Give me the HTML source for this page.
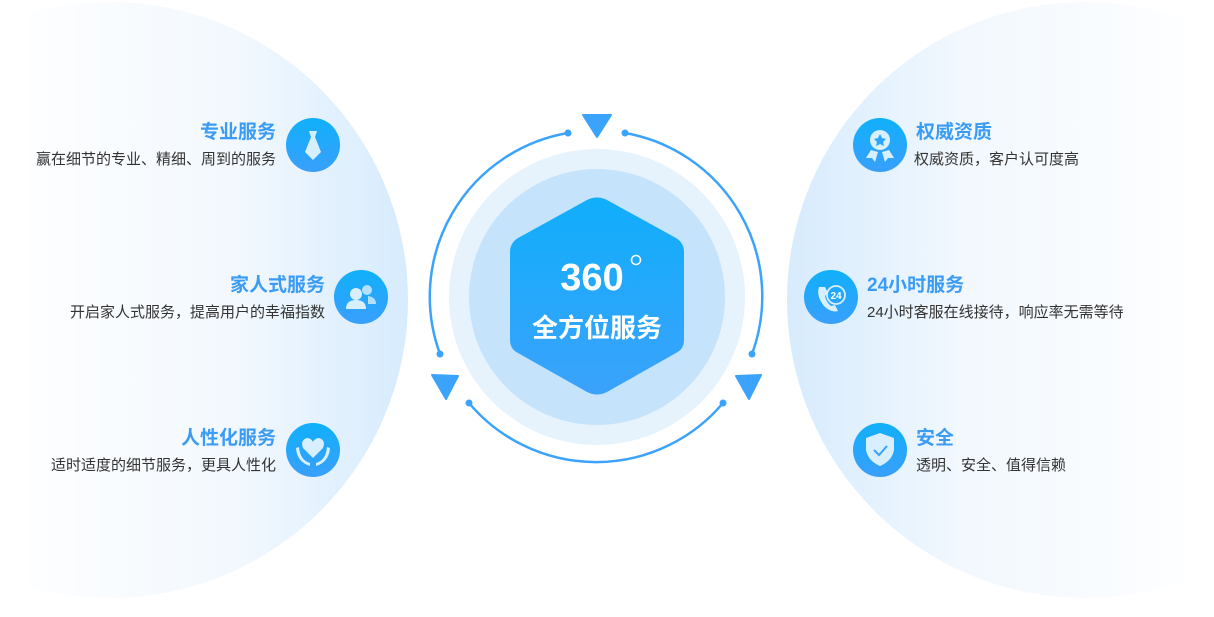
<!DOCTYPE html>
<html><head><meta charset="utf-8"><style>
html,body{margin:0;padding:0;background:#fff;width:1214px;height:617px;overflow:hidden}
svg text{font-family:"Liberation Sans","Noto Sans CJK SC",sans-serif}
.t{font-size:19px;font-weight:bold;fill:#3a9cf5}
.d{font-size:15px;fill:#333}
</style></head><body>
<svg width="1214" height="617" viewBox="0 0 1214 617" xmlns="http://www.w3.org/2000/svg">
<defs>
<linearGradient id="gl" x1="30" y1="0" x2="410" y2="0" gradientUnits="userSpaceOnUse">
<stop offset="0" stop-color="#fdfeff"/><stop offset="0.55" stop-color="#f2f8fe"/><stop offset="1" stop-color="#d6ebfd"/></linearGradient>
<linearGradient id="gr" x1="1184" y1="0" x2="784" y2="0" gradientUnits="userSpaceOnUse">
<stop offset="0" stop-color="#fdfeff"/><stop offset="0.55" stop-color="#f2f8fe"/><stop offset="1" stop-color="#d6ebfd"/></linearGradient>
<linearGradient id="hx" x1="0" y1="0" x2="0" y2="1">
<stop offset="0" stop-color="#10aefb"/><stop offset="1" stop-color="#3ba2fb"/></linearGradient>
<linearGradient id="ic" x1="0" y1="0" x2="0" y2="1">
<stop offset="0" stop-color="#10b0fb"/><stop offset="1" stop-color="#399ffb"/></linearGradient>
<clipPath id="cl"><rect x="30" y="0" width="400" height="617"/></clipPath>
<clipPath id="cr"><rect x="780" y="0" width="404" height="617"/></clipPath>
</defs>
<g clip-path="url(#cl)"><circle cx="110" cy="300" r="298" fill="url(#gl)"/></g>
<g clip-path="url(#cr)"><circle cx="1085" cy="300" r="298" fill="url(#gr)"/></g>

<!-- center -->
<circle cx="597" cy="297" r="148" fill="#e6f3fd"/>
<circle cx="597" cy="297" r="128" fill="#c5e3fb"/>
<path d="M587 200 Q597 195 607 200 L676 238 Q684 243 684 252 L684 340 Q684 349 676 353 L607 392 Q597 397 587 392 L518 353 Q510 349 510 340 L510 252 Q510 243 518 238 Z" fill="url(#hx)"/>
<text x="592" y="290" text-anchor="middle" font-size="38" font-weight="bold" fill="#fff" style="font-family:'Liberation Sans',sans-serif">360</text>
<circle cx="636" cy="260" r="4.5" fill="none" stroke="#fff" stroke-width="1.6"/>
<text x="597" y="337" text-anchor="middle" font-size="26" font-weight="bold" fill="#fff">全方位服务</text>

<g fill="none" stroke="#3ba3fb" stroke-width="2.5">
<path d="M568 133 A166 166 0 0 0 440 354"/>
<path d="M625 133 A166 166 0 0 1 752 354"/>
<path d="M469 403 A166 166 0 0 0 723 403"/>
</g>
<g fill="#3ba3fb">
<circle cx="568" cy="133" r="3.5"/><circle cx="625" cy="133" r="3.5"/>
<circle cx="440" cy="354" r="3.5"/><circle cx="752" cy="354" r="3.5"/>
<circle cx="469" cy="403" r="3.5"/><circle cx="723" cy="403" r="3.5"/>
<path d="M583 115 L611 115 L597 137 Z" stroke="#3ba3fb" stroke-width="2" stroke-linejoin="round"/>
<path d="M432 375 L458 376 L446 399 Z" stroke="#3ba3fb" stroke-width="2" stroke-linejoin="round"/>
<path d="M736 376 L761 375 L749 399 Z" stroke="#3ba3fb" stroke-width="2" stroke-linejoin="round"/>
</g>

<!-- icons -->
<g fill="url(#ic)">
<circle cx="313" cy="145" r="27"/><circle cx="361" cy="297" r="27"/><circle cx="313" cy="450" r="27"/>
<circle cx="880" cy="145" r="27"/><circle cx="831" cy="297" r="27"/><circle cx="880" cy="450" r="27"/>
</g>
<g fill="#d8efff">
<path d="M309 131 L317 131 L315 137 L321 152 L313 160 L305 152 L311 137 Z"/>
<circle cx="356" cy="294" r="6"/><path d="M346 309 Q346 300 356 300 Q366 300 366 309 Z"/>
<circle cx="367" cy="290" r="5" opacity="0.8"/><path d="M368 296 Q376 297 376 304 L368 304 Z" opacity="0.8"/>
<path d="M313 458 L303 448 Q300 440 307 438 Q311 438 313 442 Q315 438 319 438 Q326 440 323 448 Z"/>
<path d="M299 447 Q300 460 310 463 L310 466 Q297 462 296 448 Z M327 447 Q326 460 316 463 L316 466 Q329 462 330 448 Z"/>
<circle cx="880" cy="140" r="10"/><path d="M871 150 L866 158 L872 158 L875 162 L878 152 Z M889 150 L894 158 L888 158 L885 162 L882 152 Z"/>
<path d="M880 134 L882 138 L886 139 L883 142 L884 146 L880 144 L876 146 L877 142 L874 139 L878 138 Z" fill="#2aa6fb"/>
<path d="M866 438 L880 433 L894 438 L894 450 Q892 461 880 466 Q868 461 866 450 Z"/>
<path d="M874 450 L879 455 L887 446" fill="none" stroke="#38a3fb" stroke-width="2"/>
<path d="M819 287 Q816 296 824 306 Q831 313 838 311 L835 305 L831 306 Q826 302 825 296 L828 293 L825 287 Z"/>
<circle cx="836" cy="295" r="9" fill="none" stroke="#d8efff" stroke-width="1.8"/>
<text x="836" y="299" text-anchor="middle" font-size="10" font-weight="bold" fill="#fff">24</text>
</g>

<!-- texts left -->
<text class="t" x="276" y="138" text-anchor="end">专业服务</text>
<text class="d" x="276" y="164" text-anchor="end">赢在细节的专业、精细、周到的服务</text>
<text class="t" x="325" y="291" text-anchor="end">家人式服务</text>
<text class="d" x="325" y="317" text-anchor="end">开启家人式服务，提高用户的幸福指数</text>
<text class="t" x="276" y="444" text-anchor="end">人性化服务</text>
<text class="d" x="276" y="470" text-anchor="end">适时适度的细节服务，更具人性化</text>
<!-- texts right -->
<text class="t" x="916" y="138">权威资质</text>
<text class="d" x="914" y="164">权威资质，客户认可度高</text>
<text class="t" x="867" y="291">24小时服务</text>
<text class="d" x="867" y="317">24小时客服在线接待，响应率无需等待</text>
<text class="t" x="916" y="444">安全</text>
<text class="d" x="916" y="470">透明、安全、值得信赖</text>
</svg>
</body></html>
